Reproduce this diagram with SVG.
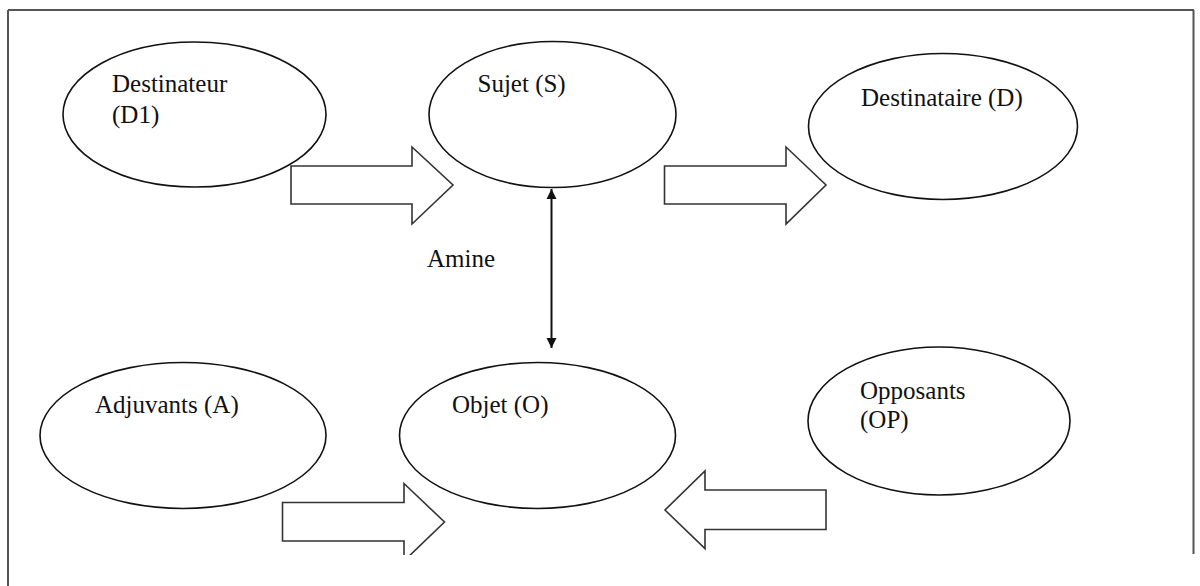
<svg xmlns="http://www.w3.org/2000/svg" width="1200" height="586" viewBox="0 0 1200 586">
  <defs>
    <style>
      .node ellipse { fill: #fff; stroke: #111; stroke-width: 1.6; }
      .lbl { font-family: "Liberation Serif", "Times New Roman", serif; font-size: 25px; fill: #111; }
      .barrow { fill: #fff; stroke: #333; stroke-width: 1.6; stroke-linejoin: miter; }
      .frame { stroke: #555; stroke-width: 2; fill: none; }
    </style>
    <marker id="ah" viewBox="0 0 10 10" refX="10" refY="5" markerWidth="10" markerHeight="11" markerUnits="userSpaceOnUse" orient="auto-start-reverse">
      <path d="M0,0 L10,5 L0,10 z" fill="#111"/>
    </marker>
    <clipPath id="cut">
      <rect x="0" y="0" width="1200" height="555"/>
    </clipPath>
  </defs>
  <rect width="1200" height="586" fill="#fff"/>
  <g id="frame">
    <line class="frame" x1="8" y1="10" x2="1194" y2="10"/>
    <line class="frame" x1="8" y1="10" x2="8" y2="586"/>
    <line class="frame" x1="1193.5" y1="10" x2="1193.5" y2="554" stroke-width="1"/>
  </g>
  <g id="connectors">
    <path class="barrow" d="M291,166 H412 V147 L453,185 L412,224 V204 H291 Z"/>
    <path class="barrow" d="M664.5,166 H786 V147 L826,185 L786,224 V204 H664.5 Z"/>
    <g clip-path="url(#cut)">
      <path class="barrow" d="M282.5,502.5 H404 V483.5 L444.5,522 L404,561 V541 H282.5 Z"/>
    </g>
    <path class="barrow" d="M826,490 H705 V471 L665,510 L705,548.5 V529.5 H826 Z"/>
    <line x1="551.5" y1="189" x2="551.5" y2="348" stroke="#111" stroke-width="2" marker-start="url(#ah)" marker-end="url(#ah)"/>
    <text class="lbl" x="427" y="266.5">Amine</text>
  </g>
  <g id="destinateur" class="node">
    <ellipse cx="194.5" cy="114.5" rx="131.5" ry="72.5"/>
    <text class="lbl" x="112" y="92">Destinateur</text>
    <text class="lbl" x="112" y="123">(D1)</text>
  </g>
  <g id="sujet" class="node">
    <ellipse cx="552.5" cy="114.5" rx="123.5" ry="73"/>
    <text class="lbl" x="477.5" y="91.5">Sujet (S)</text>
  </g>
  <g id="destinataire" class="node">
    <ellipse cx="943" cy="126.5" rx="134.5" ry="73"/>
    <text class="lbl" x="861" y="106">Destinataire (D)</text>
  </g>
  <g id="adjuvants" class="node">
    <ellipse cx="183" cy="435.5" rx="143" ry="73"/>
    <text class="lbl" x="95" y="413">Adjuvants (A)</text>
  </g>
  <g id="objet" class="node">
    <ellipse cx="537.5" cy="435.5" rx="138" ry="73"/>
    <text class="lbl" x="452" y="413">Objet (O)</text>
  </g>
  <g id="opposants" class="node">
    <ellipse cx="939" cy="421" rx="131" ry="74"/>
    <text class="lbl" x="860" y="399">Opposants</text>
    <text class="lbl" x="860" y="428">(OP)</text>
  </g>
</svg>
